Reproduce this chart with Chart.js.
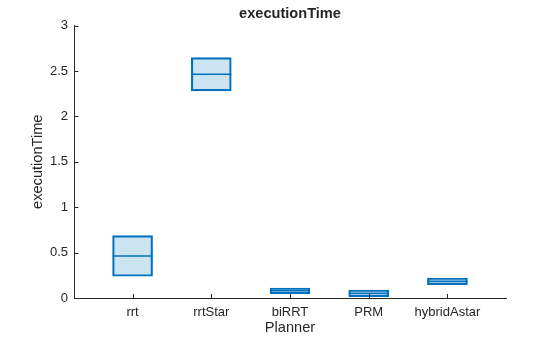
<!DOCTYPE html>
<html>
<head>
<meta charset="utf-8">
<script src="https://cdn.jsdelivr.net/npm/chart.js@4/dist/chart.umd.min.js"></script>
<style>
    html, body { margin: 0; padding: 0; background: #fff; }
    #wrap { width: 560px; height: 337px; }
</style>
</head>
<body>
<div id="wrap"><canvas id="boxChart"></canvas></div>
<script>
    // planners on the x axis, box stats per planner
    var planners = ['rrt', 'rrtStar', 'biRRT', 'PRM', 'hybridAstar'];
    var q1 = [0.239, 2.28, 0.047, 0.016, 0.147];
    var q3 = [0.686, 2.646, 0.11, 0.088, 0.22];
    var medians = [0.463, 2.464, 0.08, 0.052, 0.184];
    var yTicks = [0, 0.5, 1, 1.5, 2, 2.5, 3];

    var BLUE = '#0072BD';
    var INK = '#262626';
    var FONT = 'Liberation Sans, Arial, Helvetica, sans-serif';

    // median line across each box
    var medianPlugin = {
        id: 'medianLines',
        afterDatasetsDraw: function (chart) {
            var ctx = chart.ctx;
            var yScale = chart.scales.y;
            var meta = chart.getDatasetMeta(0);
            ctx.save();
            ctx.strokeStyle = BLUE;
            ctx.lineWidth = 1.5;
            meta.data.forEach(function (bar, i) {
                var y = yScale.getPixelForValue(medians[i]);
                ctx.beginPath();
                ctx.moveTo(bar.x - bar.width / 2, y);
                ctx.lineTo(bar.x + bar.width / 2, y);
                ctx.stroke();
            });
            ctx.restore();
        }
    };

    // tick marks pointing into the plot
    var innerTicks = {
        id: 'innerTicks',
        afterDraw: function (chart) {
            var ctx = chart.ctx;
            var area = chart.chartArea;
            var xs = chart.scales.x, ys = chart.scales.y;
            ctx.save();
            ctx.strokeStyle = INK;
            ctx.lineWidth = 1;
            ctx.beginPath();
            xs.ticks.forEach(function (t) {
                var x = Math.round(xs.getPixelForValue(t.value)) + 0.5;
                ctx.moveTo(x, area.bottom);
                ctx.lineTo(x, area.bottom - 4);
            });
            ys.ticks.forEach(function (t) {
                var y = Math.round(ys.getPixelForValue(t.value)) + 0.5;
                ctx.moveTo(area.left, y);
                ctx.lineTo(area.left + 4.5, y);
            });
            ctx.stroke();
            ctx.restore();
        }
    };

    var boxes = planners.map(function (p, i) {
        return { x: i + 1, y: [q1[i], q3[i]] };
    });

    new Chart(document.getElementById('boxChart'), {
        type: 'bar',
        data: {
            datasets: [{
                data: boxes,
                backgroundColor: 'rgba(0,114,189,0.2)',
                borderColor: BLUE,
                borderWidth: 1.5,
                borderSkipped: false,
                barThickness: 40,
            }]
        },
        options: {
            responsive: true,
            maintainAspectRatio: false,
            animation: false,
            events: [],
            layout: { padding: { left: 0, right: 54, top: 0, bottom: 0 } },
            plugins: {
                legend: { display: false },
                tooltip: { enabled: false },
                title: {
                    display: true,
                    fullSize: false,
                    text: 'executionTime',
                    color: INK,
                    font: { family: FONT, size: 14.6, weight: 'bold', lineHeight: 1.2 },
                    padding: { top: 5, bottom: 3 },
                },
            },
            scales: {
                x: {
                    type: 'linear',
                    offset: false,
                    min: 0.256,
                    max: 5.744,
                    afterBuildTicks: function (axis) {
                        axis.ticks = planners.map(function (p, i) { return { value: i + 1 }; });
                    },
                    afterFit: function (axis) { axis.height = 39; },
                    grid: { display: false, drawTicks: false, offset: false },
                    border: { display: true, color: INK, width: 1 },
                    ticks: {
                        color: INK,
                        padding: 7,
                        maxRotation: 0,
                        font: { family: FONT, size: 13 },
                        callback: function (v) { return planners[v - 1]; },
                    },
                    title: {
                        display: true,
                        text: 'Planner',
                        color: INK,
                        font: { family: FONT, size: 14.6, lineHeight: 1.2 },
                        padding: { top: 0, bottom: 0 },
                    },
                },
                y: {
                    min: 0,
                    max: 3,
                    afterBuildTicks: function (axis) {
                        axis.ticks = yTicks.map(function (v) { return { value: v }; });
                    },
                    afterFit: function (axis) { axis.width = 74; },
                    grid: { display: false, drawTicks: false },
                    border: { display: true, color: INK, width: 1 },
                    ticks: {
                        color: INK,
                        padding: 6,
                        font: { family: FONT, size: 13 },
                        callback: function (v) { return String(v); },
                    },
                    title: {
                        display: true,
                        text: 'executionTime',
                        color: INK,
                        font: { family: FONT, size: 14.6, lineHeight: 1.2 },
                        padding: { top: 29, bottom: 0 },
                    },
                },
            },
        },
        plugins: [medianPlugin, innerTicks],
    });
</script>
</body>
</html>
